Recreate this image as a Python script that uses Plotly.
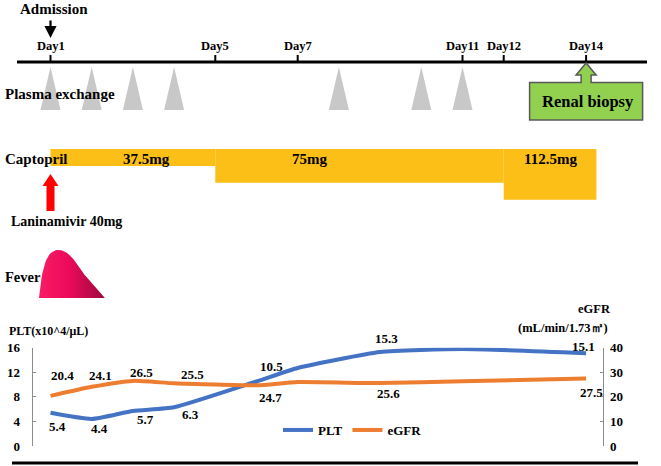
import plotly.graph_objects as go

# ---------------- data ----------------
days = [1, 2, 3, 4, 6, 7, 9, 11, 14]
plt_values = [5.4, 4.4, 5.7, 6.3, 10.5, 12.7, 15.3, 15.8, 15.1]
egfr_values = [20.4, 24.1, 26.5, 25.5, 24.7, 26.0, 25.6, 26.3, 27.5]
plt_labels = ["5.4", "4.4", "5.7", "6.3", "10.5", "", "15.3", "", "15.1"]
egfr_labels = ["20.4", "24.1", "26.5", "25.5", "24.7", "", "25.6", "", "27.5"]
plt_ticks = [0, 4, 8, 12, 16]
egfr_ticks = [0, 10, 20, 30, 40]

timeline_days = [1, 5, 7, 11, 12, 14]
timeline_labels = ["Day1", "Day5", "Day7", "Day11", "Day12", "Day14"]
plasma_exchange_days = [1, 2, 3, 4, 8, 10, 11]
captopril_start = [1, 5, 12]
captopril_end = [5, 12, 14.25]
captopril_doses = [37.5, 75, 112.5]
captopril_labels = ["37.5mg", "75mg", "112.5mg"]
admission_day = 1
laninamivir_day = 1
biopsy_day = 14
fever_days = [0.72, 1.19, 2.32]  # onset, peak, resolution

# ---------------- layout helpers ----------------
W, H = 661, 466
PX_PER_DAY = 41.2
DAY1_PX = 50.5
X_RANGE = [1 - DAY1_PX / PX_PER_DAY, 1 + (W - DAY1_PX) / PX_PER_DAY]
SERIF = "Liberation Serif"

# value-label placement (pixel shifts from the data point, y up)
plt_label_shift = [(6.5, -14), (8, -10), (13, -9), (16, -7), (14.5, 15), (0, 0), (6, 14), (0, 0), (-3, 7)]
egfr_label_shift = [(11.5, 20), (9, 11), (9, 8), (18, 9), (13.5, -12), (0, 0), (8, -10), (0, 0), (5, -14)]


def dx(px):
    return px / PX_PER_DAY


def poly(points):
    return "M " + " L ".join(f"{x:.4f},{y:.2f}" for x, y in points) + " Z"


def font(size, color="black"):
    return dict(family=SERIF, size=size, color=color, weight="bold")


def bez(p0, p1, p2, p3, n=20):
    out = []
    for i in range(n + 1):
        t = i / n
        a, b, c, d = (1 - t) ** 3, 3 * (1 - t) ** 2 * t, 3 * (1 - t) * t ** 2, t ** 3
        out.append((a * p0[0] + b * p1[0] + c * p2[0] + d * p3[0],
                    a * p0[1] + b * p1[1] + c * p2[1] + d * p3[1]))
    return out


shapes = []
annotations = []

# timeline
shapes.append(dict(type="line", xref="paper", yref="y3", x0=17 / W, x1=647 / W, y0=62, y1=62,
                   line=dict(color="black", width=3)))
for d, lab in zip(timeline_days, timeline_labels):
    shapes.append(dict(type="line", xref="x", yref="y3", x0=d, x1=d, y0=55, y1=62,
                       line=dict(color="black", width=2)))
    annotations.append(dict(x=d, y=46, xref="x", yref="y3", text=lab, showarrow=False,
                            font=font(12.5)))

# admission
annotations.append(dict(x=admission_day, y=9, xref="x", yref="y3", text="Admission", showarrow=False,
                        xshift=3, font=font(15)))
annotations.append(dict(x=admission_day, y=38, xref="x", yref="y3", text="", showarrow=True,
                        ax=0, ay=-19, arrowhead=2, arrowsize=1.1, arrowwidth=2.2, arrowcolor="black"))

# plasma exchange
annotations.append(dict(x=3 / W, y=94, xref="paper", yref="y3", text="Plasma exchange", showarrow=False,
                        xanchor="left", font=font(15)))
for d in plasma_exchange_days:
    shapes.append(dict(type="path", xref="x", yref="y3",
                       path=poly([(d - dx(10), 110), (d, 67), (d + dx(10), 110)]),
                       fillcolor="#c8c8c8", line=dict(width=0)))

# renal biopsy
c = biopsy_day
shapes.append(dict(type="path", xref="x", yref="y3",
                   path=poly([(c - dx(56.5), 120), (c - dx(56.5), 82.5), (c - dx(5), 82.5), (c - dx(5), 75),
                              (c - dx(10), 75), (c, 63), (c + dx(10), 75), (c + dx(5), 75),
                              (c + dx(5), 82.5), (c + dx(56.5), 82.5), (c + dx(56.5), 120)]),
                   fillcolor="#92D050", line=dict(color="#595959", width=1.5)))
annotations.append(dict(x=c, y=101.5, xref="x", yref="y3", text="Renal biopsy", showarrow=False,
                        xshift=1.5, font=font(16.5)))

# captopril
BAR_TOP = 149
MG_PX = 0.45
annotations.append(dict(x=3 / W, y=159, xref="paper", yref="y3", text="Captopril", showarrow=False,
                        xanchor="left", font=font(15)))
label_shift = [14, -50, 0]
for s, e, dose, lab, sh in zip(captopril_start, captopril_end, captopril_doses, captopril_labels, label_shift):
    shapes.append(dict(type="rect", xref="x", yref="y3", x0=s, x1=e, y0=BAR_TOP, y1=BAR_TOP + dose * MG_PX,
                       fillcolor="#FCBF17", line=dict(width=0), layer="below"))
    annotations.append(dict(x=(s + e) / 2, y=159, xref="x", yref="y3", text=lab, showarrow=False,
                            xshift=sh, font=font(15)))

# laninamivir
d = laninamivir_day
shapes.append(dict(type="path", xref="x", yref="y3",
                   path=poly([(d - dx(4), 211), (d - dx(4), 186), (d - dx(8), 186), (d, 174),
                              (d + dx(8), 186), (d + dx(4), 186), (d + dx(4), 211)]),
                   fillcolor="#FF0000", line=dict(width=0)))
annotations.append(dict(x=9 / W, y=221, xref="paper", yref="y3", text="Laninamivir 40mg", showarrow=False,
                        xanchor="left", font=font(14)))

# fever
annotations.append(dict(x=3 / W, y=277, xref="paper", yref="y3", text="Fever", showarrow=False,
                        xanchor="left", font=font(14.5)))
x0, xp, x1 = fever_days
wl, wr = xp - x0, x1 - xp
top, base = 250, 298
pts = bez((x0, base), (x0 + 0.16 * wl, 266), (x0 + 0.40 * wl, top), (xp, top))
pts += bez((xp, top), (xp + 0.22 * wr, top), (xp + 0.36 * wr, 261), (xp + 0.55 * wr, 274))[1:]
pts.append((x1, base))
pts.append((x0, base))
fever_x = [p[0] for p in pts]
fever_y = [p[1] for p in pts]

# chart axis titles
annotations.append(dict(x=7 / W, y=331, xref="paper", yref="y3", text="PLT(x10^4/μL)", showarrow=False,
                        xanchor="left", font=font(12)))
annotations.append(dict(x=613 / W, y=309, xref="paper", yref="y3", text="eGFR", showarrow=False,
                        font=font(12.5)))
annotations.append(dict(x=610 / W, y=328, xref="paper", yref="y3", text="(mL/min/1.73㎡)", showarrow=False,
                        font=font(12.5)))

# value labels
for yref, vals, labs, shifts in (("y", plt_values, plt_labels, plt_label_shift),
                                 ("y2", egfr_values, egfr_labels, egfr_label_shift)):
    for d, v, lab, (sx, sy) in zip(days, vals, labs, shifts):
        if lab:
            annotations.append(dict(x=d, y=v, xref="x", yref=yref, text=lab, showarrow=False,
                                    xshift=sx, yshift=sy, font=font(13)))

# bottom rule
shapes.append(dict(type="line", xref="paper", yref="y3", x0=12 / W, x1=638 / W, y0=463, y1=463,
                   line=dict(color="black", width=3)))

fig = go.Figure()
fig.add_trace(go.Scatter(x=fever_x, y=fever_y, xaxis="x", yaxis="y3", mode="lines", fill="toself",
                         line=dict(width=0, color="#e8085a"),
                         fillgradient=dict(type="horizontal",
                                           colorscale=[[0, "#f81c64"], [0.45, "#ec0a5a"], [1, "#9c0a3e"]]),
                         showlegend=False, hoverinfo="skip"))
fig.add_trace(go.Scatter(x=days, y=plt_values, name="PLT", xaxis="x", yaxis="y", mode="lines",
                         line=dict(color="#4472C4", width=4, shape="spline", smoothing=0.5)))
fig.add_trace(go.Scatter(x=days, y=egfr_values, name="eGFR", xaxis="x", yaxis="y2", mode="lines",
                         line=dict(color="#ED7D31", width=4, shape="spline", smoothing=0.5)))

Y_DOM = [1 - 446 / H, 1 - 347.7 / H]
axis_common = dict(showline=True, linecolor="#8c8c8c", linewidth=1, ticks="inside", ticklen=3,
                   tickcolor="#8c8c8c", showgrid=False, zeroline=False, tickfont=font(13),
                   fixedrange=True, automargin=False)
fig.update_layout(
    width=W, height=H, autosize=False,
    margin=dict(l=0, r=0, t=0, b=0, pad=0),
    paper_bgcolor="white", plot_bgcolor="rgba(0,0,0,0)",
    hovermode=False,
    xaxis=dict(domain=[0, 1], range=X_RANGE, visible=False, fixedrange=True, automargin=False),
    yaxis=dict(domain=Y_DOM, range=[0, 16], tickvals=plt_ticks, anchor="free", position=31.7 / W,
               ticklabelstandoff=9, **axis_common),
    yaxis2=dict(range=[0, 40], tickvals=egfr_ticks, overlaying="y", side="right", anchor="free",
                position=603.3 / W, ticklabelstandoff=3, **axis_common),
    yaxis3=dict(domain=[0, 1], range=[H, 0], visible=False, anchor="x", fixedrange=True, automargin=False),
    legend=dict(orientation="h", x=278 / W, xanchor="left", y=1 - 430 / H, yanchor="middle",
                bgcolor="rgba(0,0,0,0)", font=font(13), itemclick=False, itemdoubleclick=False),
    shapes=shapes,
    annotations=annotations,
)

fig.write_html("out.html", config={"displayModeBar": False},
               post_script="document.body.style.margin='0';document.body.style.overflow='hidden';")
